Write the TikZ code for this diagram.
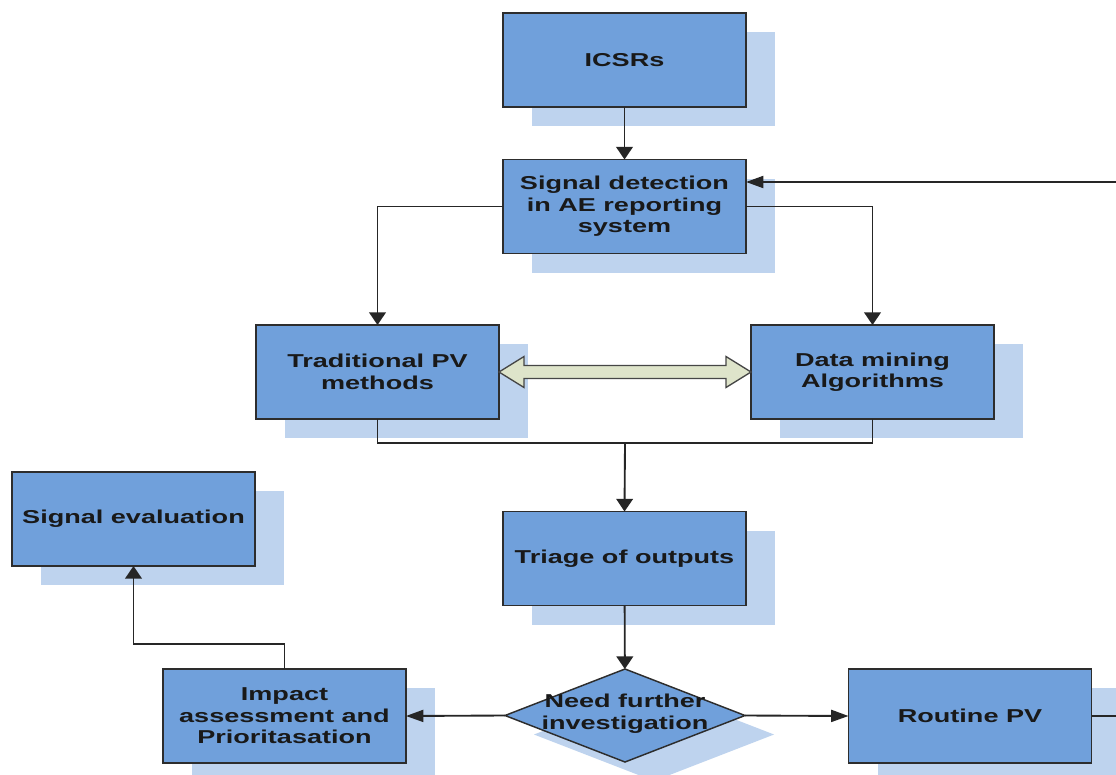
\documentclass[tikz,border=0pt]{standalone}
\usepackage{fontspec}
\newfontfamily\boxfont[FakeStretch=1.45]{Liberation Sans Bold}
\usetikzlibrary{shapes.geometric,shadows,calc,arrows.meta}
\definecolor{boxblue}{RGB}{112,160,219}
\definecolor{shadowblue}{RGB}{190,211,238}
\definecolor{bordercol}{RGB}{45,45,45}
\definecolor{textcol}{RGB}{25,25,25}
\definecolor{arrowfill}{RGB}{222,228,202}
\definecolor{arrowline}{RGB}{70,70,70}
\begin{document}
\begin{tikzpicture}[x=0.75pt,y=-0.75pt,
  shd/.style={drop shadow={shadow xshift=21.75pt,shadow yshift=-14.25pt,fill=shadowblue,opacity=1,draw=none}},
  txt/.style={align=center,font=\boxfont\fontsize{14}{16.1}\selectfont,text=textcol},
  box/.style={rectangle,draw=bordercol,line width=1.2pt,fill=boxblue,minimum width=182.25pt,minimum height=70.5pt,outer sep=0pt,inner sep=2pt,txt,shd},
  decision/.style={diamond,draw=bordercol,line width=1.1pt,fill=boxblue,minimum width=180pt,minimum height=69.75pt,inner sep=0pt,outer sep=0pt,shd},
  conn/.style={draw=black!85,line width=1.4pt},
  vtip/.style={-{Triangle[length=9.5pt,width=12.5pt]}},
  htip/.style={-{Triangle[length=13pt,width=9pt]}},
  dblarrow/.style={draw=arrowline,fill=arrowfill,line width=1pt,line join=miter}
]
\clip (0,0) rectangle (1116,774);
\fill[white] (0,0) rectangle (1116,774);

\node[box] (icsr) at (624.5,60) {ICSRs};
\node[box] (sd) at (624.5,206.5) {Signal detection\\in AE reporting\\system};
\node[box] (tp) at (377.5,372) {Traditional PV\\methods};
\node[box] (dm) at (872.5,372) {Data mining\\Algorithms};
\node[box] (tr) at (624.5,558.5) {Triage of outputs};
\node[box] (se) at (133.5,519) {Signal evaluation};
\node[box] (ia) at (284.5,716) {Impact\\assessment and\\Prioritasation};
\node[decision] (nf) at (625,715.5) {};
\node[txt] (nft) at ($(nf)+(0,-2)$) {Need further\\investigation};
\node[box] (rp) at (970,716) {Routine PV};

\draw[conn,vtip] (icsr) -- (sd);
\draw[conn,vtip] (sd.west) -| (tp.north);
\draw[conn,vtip] (sd.east) -| (dm.north);
\draw[conn] (tp.south) -- ++(0,24) -| (dm.south);
\coordinate (j) at ($(tp.south)!0.5!(dm.south)+(0,24)$);
\draw[conn,vtip] (j) -- (tr.north);
\draw[conn,vtip] (tr) -- (nf);
\draw[conn,htip] (nf.west) -- (ia.east);
\draw[conn,htip] (nf.east) -- (rp.west);
\draw[conn,vtip] (ia.north) -- ++(0,-25) -| (se.south);
\coordinate (fb1) at (1130,716);
\coordinate (fb2) at (1130,182);
\draw[conn,htip] (rp.east) -- (fb1) -- (fb2) -- (fb2 -| sd.east);

\path[dblarrow] (tp.east) -- ($(tp.east)+(25,-15.5)$) -- ($(tp.east)+(25,-6.5)$)
  -- ($(dm.west)+(-25,-6.5)$) -- ($(dm.west)+(-25,-15.5)$) -- (dm.west)
  -- ($(dm.west)+(-25,15.5)$) -- ($(dm.west)+(-25,6.5)$)
  -- ($(tp.east)+(25,6.5)$) -- ($(tp.east)+(25,15.5)$) -- cycle;
\end{tikzpicture}
\end{document}
